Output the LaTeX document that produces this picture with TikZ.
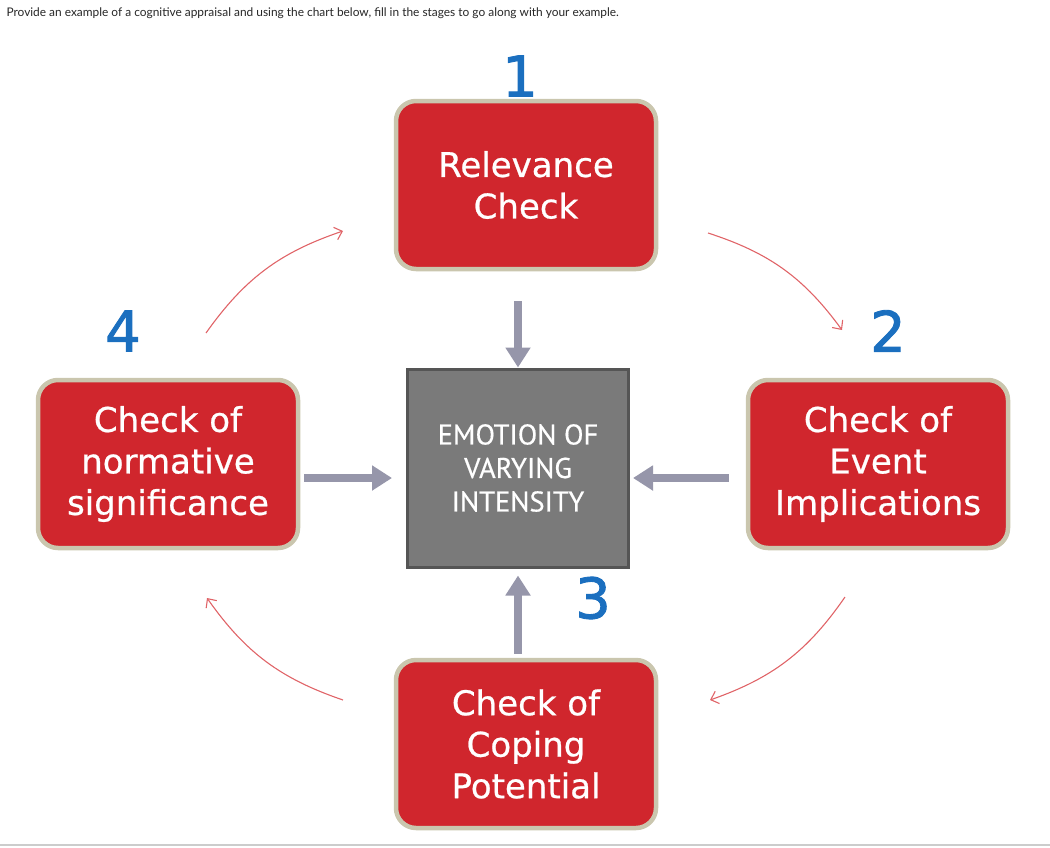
\documentclass[tikz,border=0pt]{standalone}
\usepackage{fontspec}
\setmainfont{PT Sans}
\newfontfamily\headfont{Lato}
\newfontfamily\stagefont[FakeBold=0.7]{DejaVu Sans}
\newfontfamily\numfont[FakeBold=1.6]{DejaVu Sans}
\newfontfamily\emofont[FakeBold=0.5]{PT Sans}
\usetikzlibrary{arrows.meta, positioning}

\definecolor{boxred}{HTML}{D0262D}
\definecolor{boxrim}{HTML}{CAC6AE}
\definecolor{emogray}{HTML}{7A7A7A}
\definecolor{emorim}{HTML}{555555}
\definecolor{flowgray}{HTML}{9696AA}
\definecolor{cyclered}{HTML}{E06468}
\definecolor{numblue}{HTML}{1B6FBF}

\tikzset{
  stagebox/.style={draw=boxrim, line width=4.5pt, fill=boxred, rounded corners=20pt,
    minimum width=260pt, minimum height=168pt, text=white, align=center,
    font=\stagefont\fontsize{34}{41.5}\selectfont},
  emobox/.style={draw=emorim, line width=3pt, fill=emogray, minimum width=221pt,
    minimum height=198pt, text=white, align=center,
    font=\emofont\fontsize{28.5}{33.5}\selectfont},
  stagenum/.style={text=numblue, font=\numfont\fontsize{56}{56}\selectfont},
  flowarrow/.style={flowgray, line width=8pt, -{Triangle[width=24pt,length=20pt]}},
  cyclearrow/.style={cyclered, line width=1.1pt, -{Straight Barb[length=7pt,width=13pt]}}
}

\begin{document}
\begin{tikzpicture}[x=1pt,y=-1pt]
  \useasboundingbox (0,0) rectangle (1050,847);

  % Heading
  \node[anchor=west, font=\headfont\fontsize{11.9}{13}\selectfont, text=black!85] (head) at (3,13)
    {Provide an example of a cognitive appraisal and using the chart below, fill in the stages to go along with your example.};

  % Stages
  \node[stagebox] (rel) at (526,185) {Relevance\\Check};
  \node[stagebox] (evt) at (878,464) {Check of\\Event\\Implications};
  \node[stagebox] (cop) at (526,744) {Check of\\Coping\\Potential};
  \node[stagebox] (nor) at (168,464) {Check of\\normative\\significance};
  \node[emobox] (emo) at (518,468) {EMOTION OF\\VARYING\\INTENSITY};

  % Numbers
  \node[stagenum] (n1) at (520,76) {1};
  \node[stagenum] (n2) at (888,331) {2};
  \node[stagenum] (n3) at (593,598) {3};
  \node[stagenum] (n4) at (123,331) {4};

  % Into the emotion
  \draw[flowarrow] ([xshift=-8pt,yshift=-30pt]rel.south) -- ([xshift=0pt]emo.north);
  \draw[flowarrow] ([xshift=4pt,yshift=-14pt]nor.east) -- ([xshift=-14pt,yshift=-10pt]emo.west);
  \draw[flowarrow] ([xshift=-17pt,yshift=-14pt]evt.west) -- ([xshift=3pt,yshift=-10pt]emo.east);
  \draw[flowarrow] ([xshift=-8pt,yshift=4pt]cop.north) -- ([yshift=-7pt]emo.south);

  % Cycle
  \coordinate (c4) at (206,333);
  \coordinate (c1) at (343,231);
  \coordinate (c1b) at (708,233);
  \coordinate (c2) at (842,330);
  \coordinate (c2b) at (845,597);
  \coordinate (c3) at (710,700);
  \coordinate (c3b) at (343,700);
  \coordinate (c4b) at (207,598);
  \draw[cyclearrow] (c4) to[bend left=18] (c1);
  \draw[cyclearrow] (c1b) to[bend left=18] (c2);
  \draw[cyclearrow] (c2b) to[bend left=18] (c3);
  \draw[cyclearrow] (c3b) to[bend left=18] (c4b);

  % Page rule
  \draw[black!20, line width=2pt] (0,845) -- (1050,845);
\end{tikzpicture}
\end{document}
